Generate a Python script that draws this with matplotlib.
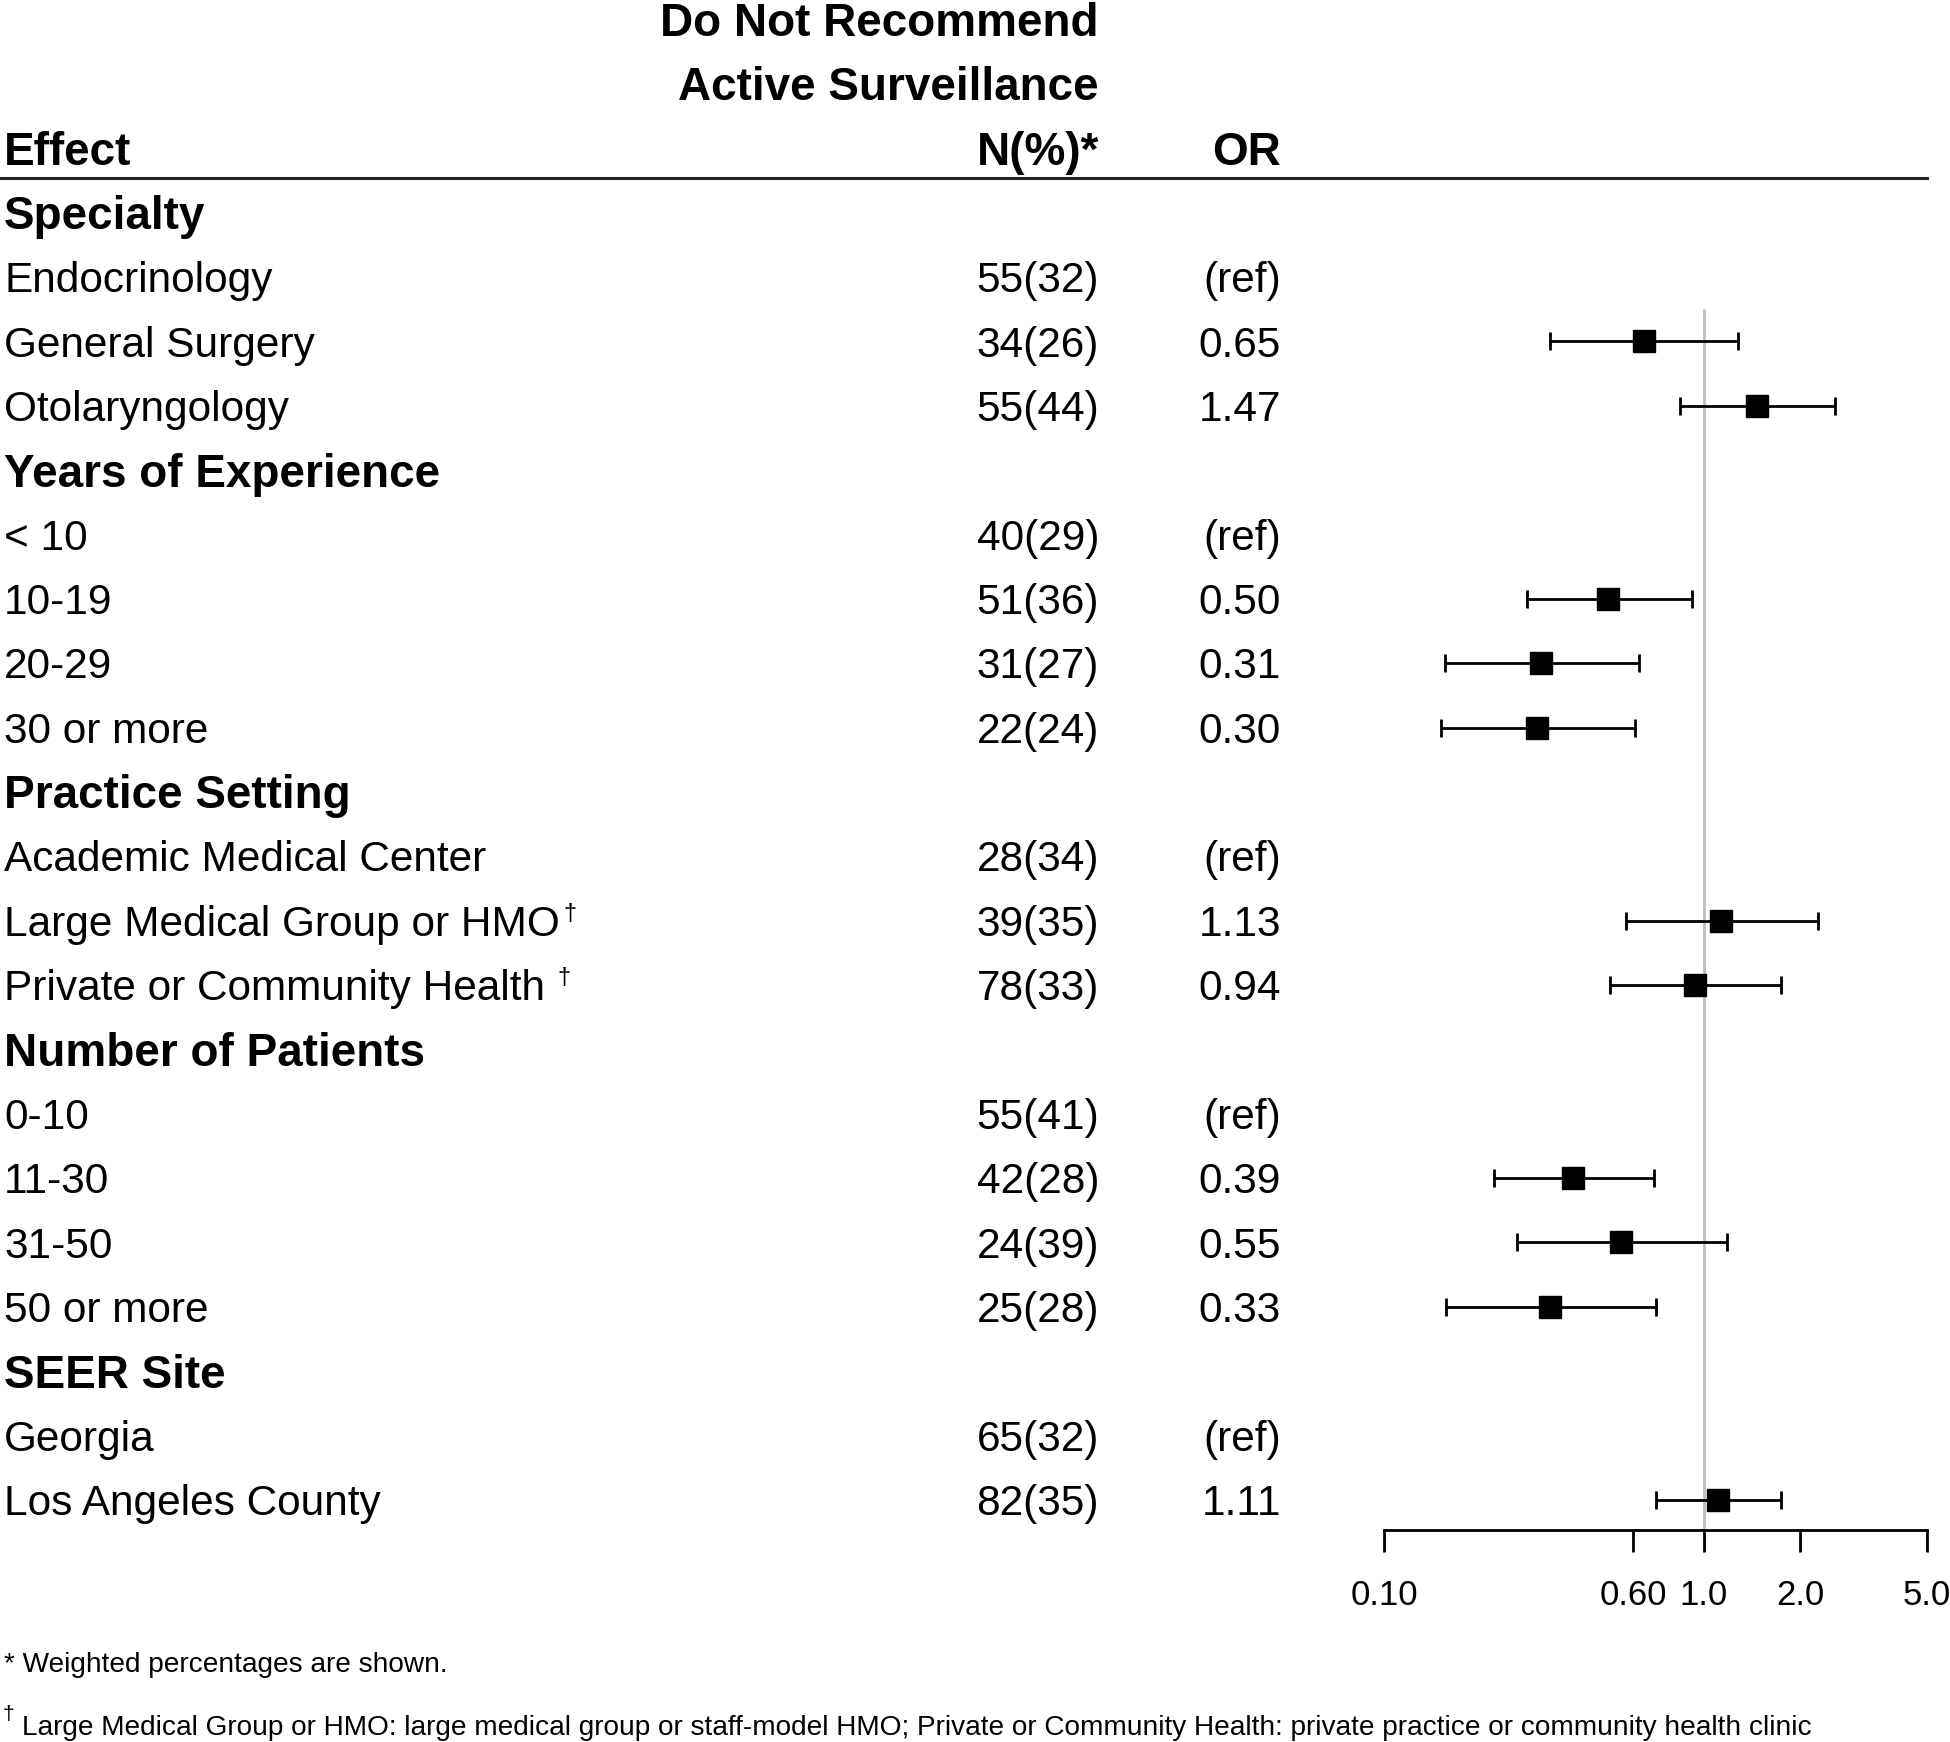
import numpy as np
import matplotlib.pyplot as plt
from matplotlib.ticker import NullLocator
from matplotlib.transforms import blended_transform_factory, IdentityTransform

plt.rcParams['font.family'] = ['Liberation Sans', 'DejaVu Sans']

# table rows (top to bottom)
row_labels = ["Specialty", "Endocrinology", "General Surgery", "Otolaryngology",
              "Years of Experience", "< 10", "10-19", "20-29", "30 or more",
              "Practice Setting", "Academic Medical Center", "Large Medical Group or HMO",
              "Private or Community Health",
              "Number of Patients", "0-10", "11-30", "31-50", "50 or more",
              "SEER Site", "Georgia", "Los Angeles County"]
header_rows = [0, 4, 9, 13, 18]
ref_rows = [1, 5, 10, 14, 19]
dagger_rows = [11, 12]
n_pct = ["", "55(32)", "34(26)", "55(44)",
         "", "40(29)", "51(36)", "31(27)", "22(24)",
         "", "28(34)", "39(35)", "78(33)",
         "", "55(41)", "42(28)", "24(39)", "25(28)",
         "", "65(32)", "82(35)"]
nan = np.nan
odds = [nan, nan, 0.65, 1.47,
        nan, nan, 0.50, 0.31, 0.30,
        nan, nan, 1.13, 0.94,
        nan, nan, 0.39, 0.55, 0.33,
        nan, nan, 1.11]
ci_low = [nan, nan, 0.33, 0.84,
          nan, nan, 0.28, 0.155, 0.15,
          nan, nan, 0.57, 0.51,
          nan, nan, 0.22, 0.26, 0.156,
          nan, nan, 0.71]
ci_high = [nan, nan, 1.28, 2.58,
           nan, nan, 0.92, 0.625, 0.61,
           nan, nan, 2.27, 1.75,
           nan, nan, 0.70, 1.18, 0.71,
           nan, nan, 1.74]
xticks = [0.1, 0.6, 1.0, 2.0, 5.0]
xtick_labels = ["0.10", "0.60", "1.0", "2.0", "5.0"]
footnote1 = "* Weighted percentages are shown."
footnote2 = ("Large Medical Group or HMO: large medical group or staff-model HMO; "
             "Private or Community Health: private practice or community health clinic")

W, H = 1950, 1742
fig = plt.figure(figsize=(W / 100, H / 100), dpi=100)

row0_px, row_px = 212.7, 64.36
axis_px = 1530
left_px, right_px = 1384.4, 1927.1
top_row = 1.0
top_px = row0_px + row_px * top_row
ax = fig.add_axes([left_px / W, 1 - axis_px / H,
                   (right_px - left_px) / W, (axis_px - top_px) / H])
ax.set_xscale('log')
ax.set_xlim(0.1, 5)
bottom_row = (axis_px - row0_px) / row_px
ax.set_ylim(bottom_row, top_row)
for s in ['top', 'left', 'right']:
    ax.spines[s].set_visible(False)
ax.spines['bottom'].set_linewidth(2.0)
ax.set_yticks([])
ax.set_xticks(xticks)
ax.set_xticklabels(xtick_labels)
ax.xaxis.set_minor_locator(NullLocator())
ax.tick_params(axis='x', direction='out', length=16, width=2.0, labelsize=25, pad=19)

rows = np.arange(len(row_labels))
odds = np.array(odds)
lo = np.array(ci_low)
hi = np.array(ci_high)
m = ~np.isnan(odds)

ax.vlines(1.0, 1.5, bottom_row, color='#bdbdbd', lw=2.0, zorder=0)
ax.errorbar(odds[m], rows[m], xerr=[odds[m] - lo[m], hi[m] - odds[m]],
            fmt='s', color='black', ms=16, capsize=6.5, elinewidth=2.0,
            capthick=2.0, zorder=3)

trans = blended_transform_factory(fig.transFigure, ax.transData)
x_lab, x_n, x_or = 4 / W, 1099 / W, 1281 / W
reg, bold = 30.5, 33
cap_reg = 0.716 * reg * 100 / 72 / row_px / 2
cap_bold = 0.716 * bold * 100 / 72 / row_px / 2

# column headers
ax.text(x_n, -3 + cap_bold, "Do Not Recommend", transform=trans, ha='right',
        fontsize=bold, fontweight='bold', clip_on=False)
ax.text(x_n, -2 + cap_bold, "Active Surveillance", transform=trans, ha='right',
        fontsize=bold, fontweight='bold', clip_on=False)
ax.text(x_lab, -1 + cap_bold, "Effect", transform=trans, ha='left',
        fontsize=bold, fontweight='bold', clip_on=False)
ax.text(x_n, -1 + cap_bold, "N(%)*", transform=trans, ha='right',
        fontsize=bold, fontweight='bold', clip_on=False)
ax.text(x_or, -1 + cap_bold, "OR", transform=trans, ha='right',
        fontsize=bold, fontweight='bold', clip_on=False)
ax.plot([0, 1927 / W], [-0.54, -0.54], transform=trans, clip_on=False,
        color='#222222', lw=2.2)

label_texts = {}
for i, lab in enumerate(row_labels):
    if i in header_rows:
        ax.text(x_lab, i + cap_bold, lab, transform=trans, ha='left',
                fontsize=bold, fontweight='bold', clip_on=False)
        continue
    label_texts[i] = ax.text(x_lab, i + cap_reg, lab, transform=trans, ha='left',
                             fontsize=reg, clip_on=False)
    ax.text(x_n, i + cap_reg, n_pct[i], transform=trans, ha='right',
            fontsize=reg, clip_on=False)
    or_txt = "(ref)" if i in ref_rows else f"{odds[i]:.2f}"
    ax.text(x_or, i + cap_reg, or_txt, transform=trans, ha='right',
            fontsize=reg, clip_on=False)

fig.text(4 / W, 1 - 1672 / H, footnote1, fontsize=20.2, va='baseline')
fig.text(22 / W, 1 - 1735 / H, footnote2, fontsize=20.2, va='baseline')

renderer = fig.canvas.get_renderer()
for i in dagger_rows:
    bb = label_texts[i].get_window_extent(renderer)
    gap = 4 if i == 11 else 12
    fig.text(bb.x1 + gap, bb.y1 + 2, "\u2020", transform=IdentityTransform(),
             fontsize=17, va='top')
fig.text(3, H - 1735 + 30, "\u2020", transform=IdentityTransform(),
         fontsize=15, va='top')

fig.savefig("out.png", dpi=100, facecolor='white')
